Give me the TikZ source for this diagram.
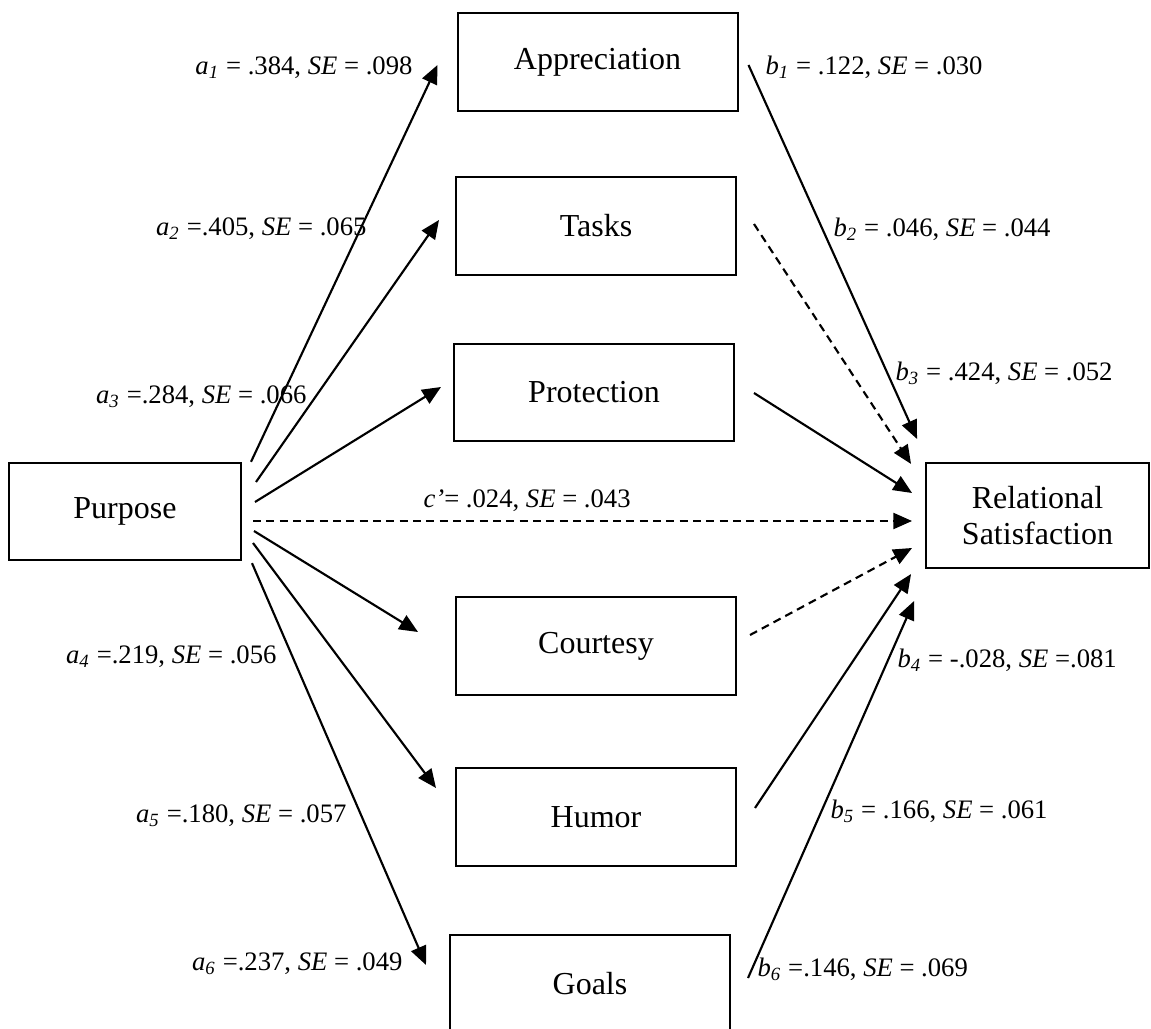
\documentclass[tikz,border=0pt]{standalone}
\usepackage{fontspec}
\setmainfont{Liberation Serif}
\usetikzlibrary{
    arrows.meta,  % Arrow tips
    calc          % Coordinate calculations
}

% path coefficient symbol and SE
\newcommand{\pth}[2]{\textit{#1}\textsubscript{\textit{#2}}}
\newcommand{\SEtxt}{\textit{SE}}

\tikzset{
    varbox/.style={draw, line width=0.75pt, font=\fontsize{12}{13.8}\selectfont, align=center, inner sep=0pt},
    medbox/.style={varbox, minimum width=105pt, minimum height=36.5pt},
    coef/.style={font=\fontsize{10}{12}\selectfont, inner sep=0pt},
    effect/.style={line width=0.8pt, -{Triangle[length=7pt,width=6pt]}},
    nseffect/.style={effect, dash pattern=on 3pt off 2pt}
}

\begin{document}
\begin{tikzpicture}[x=0.375pt, y=-0.375pt]
    \useasboundingbox (0,0) rectangle (1151,1029);

    % variables
    \node[varbox, minimum width=87pt, minimum height=36.5pt] (purpose) at (125,511.5) {Purpose};
    \node[medbox] (appr)  at (597.5,62)  {Appreciation};
    \node[medbox] (tasks) at (596,226)   {Tasks};
    \node[medbox] (prot)  at (594,392.5) {Protection};
    \node[medbox] (court) at (596,646)   {Courtesy};
    \node[medbox] (humor) at (596,817)   {Humor};
    \node[medbox] (goals) at (590,984)   {Goals};
    \node[varbox, minimum width=83.6pt, minimum height=39.4pt] (relsat) at (1037.5,515.5) {Relational\\Satisfaction};

    % a paths
    \draw[effect] ($(purpose.north east)+(9,0)$) -- ($(appr.west)+(-19,3)$);
    \draw[effect] ($(purpose.east)+(14,-29.5)$) -- ($(tasks.west)+(-16,-6)$);
    \draw[effect] ($(purpose.east)+(13,-9.5)$) -- ($(prot.west)+(-12,-5.5)$);
    \draw[effect] ($(purpose.east)+(12,19.5)$) -- ($(court.west)+(-37,-14)$);
    \draw[effect] ($(purpose.east)+(11,31.5)$) -- ($(humor.west)+(-19,-29)$);
    \draw[effect] ($(purpose.south east)+(10,2)$) -- ($(goals.west)+(-23,-19)$);

    % direct path
    \draw[nseffect] ($(purpose.east)+(11,9.5)$) -- ($(relsat.west)+(-13,5.5)$);

    % b paths
    \draw[effect] ($(appr.east)+(10,3)$) -- ($(relsat.north west)+(-8,-23)$);
    \draw[nseffect] ($(tasks.east)+(17,-2)$) -- ($(relsat.north west)+(-14,2)$);
    \draw[effect] ($(prot.east)+(19,0.5)$) -- ($(relsat.west)+(-13,-22.5)$);
    \draw[nseffect] ($(court.east)+(13,-11)$) -- ($(relsat.west)+(-13,32.5)$);
    \draw[effect] ($(humor.east)+(18,-9)$) -- ($(relsat.south west)+(-14,5)$);
    \draw[effect] ($(goals.east)+(17,-6)$) -- ($(relsat.south west)+(-11,32)$);

    % coefficients
    \node[coef, anchor=base east] (la1) at (413,75)  {\pth{a}{1} = .384, \SEtxt{} = .098};
    \node[coef, anchor=base east] (la2) at (367,236) {\pth{a}{2} =.405, \SEtxt{} = .065};
    \node[coef, anchor=base east] (la3) at (307,404) {\pth{a}{3} =.284, \SEtxt{} = .066};
    \node[coef, anchor=base east] (la4) at (277,663) {\pth{a}{4} =.219, \SEtxt{} = .056};
    \node[coef, anchor=base east] (la5) at (347,822) {\pth{a}{5} =.180, \SEtxt{} = .057};
    \node[coef, anchor=base east] (la6) at (403,970) {\pth{a}{6} =.237, \SEtxt{} = .049};
    \node[coef, anchor=base west] (lb1) at (765,75)  {\pth{b}{1} = .122, \SEtxt{} = .030};
    \node[coef, anchor=base west] (lb2) at (833,237) {\pth{b}{2} = .046, \SEtxt{} = .044};
    \node[coef, anchor=base west] (lb3) at (895,381) {\pth{b}{3} = .424, \SEtxt{} = .052};
    \node[coef, anchor=base west] (lb4) at (897,667) {\pth{b}{4} = -.028, \SEtxt{} =.081};
    \node[coef, anchor=base west] (lb5) at (830,818) {\pth{b}{5} = .166, \SEtxt{} = .061};
    \node[coef, anchor=base west] (lb6) at (757,976) {\pth{b}{6} =.146, \SEtxt{} = .069};
    \node[coef, anchor=base west] (lc)  at (423,507) {\textit{c’}= .024, \SEtxt{} = .043};
\end{tikzpicture}
\end{document}
